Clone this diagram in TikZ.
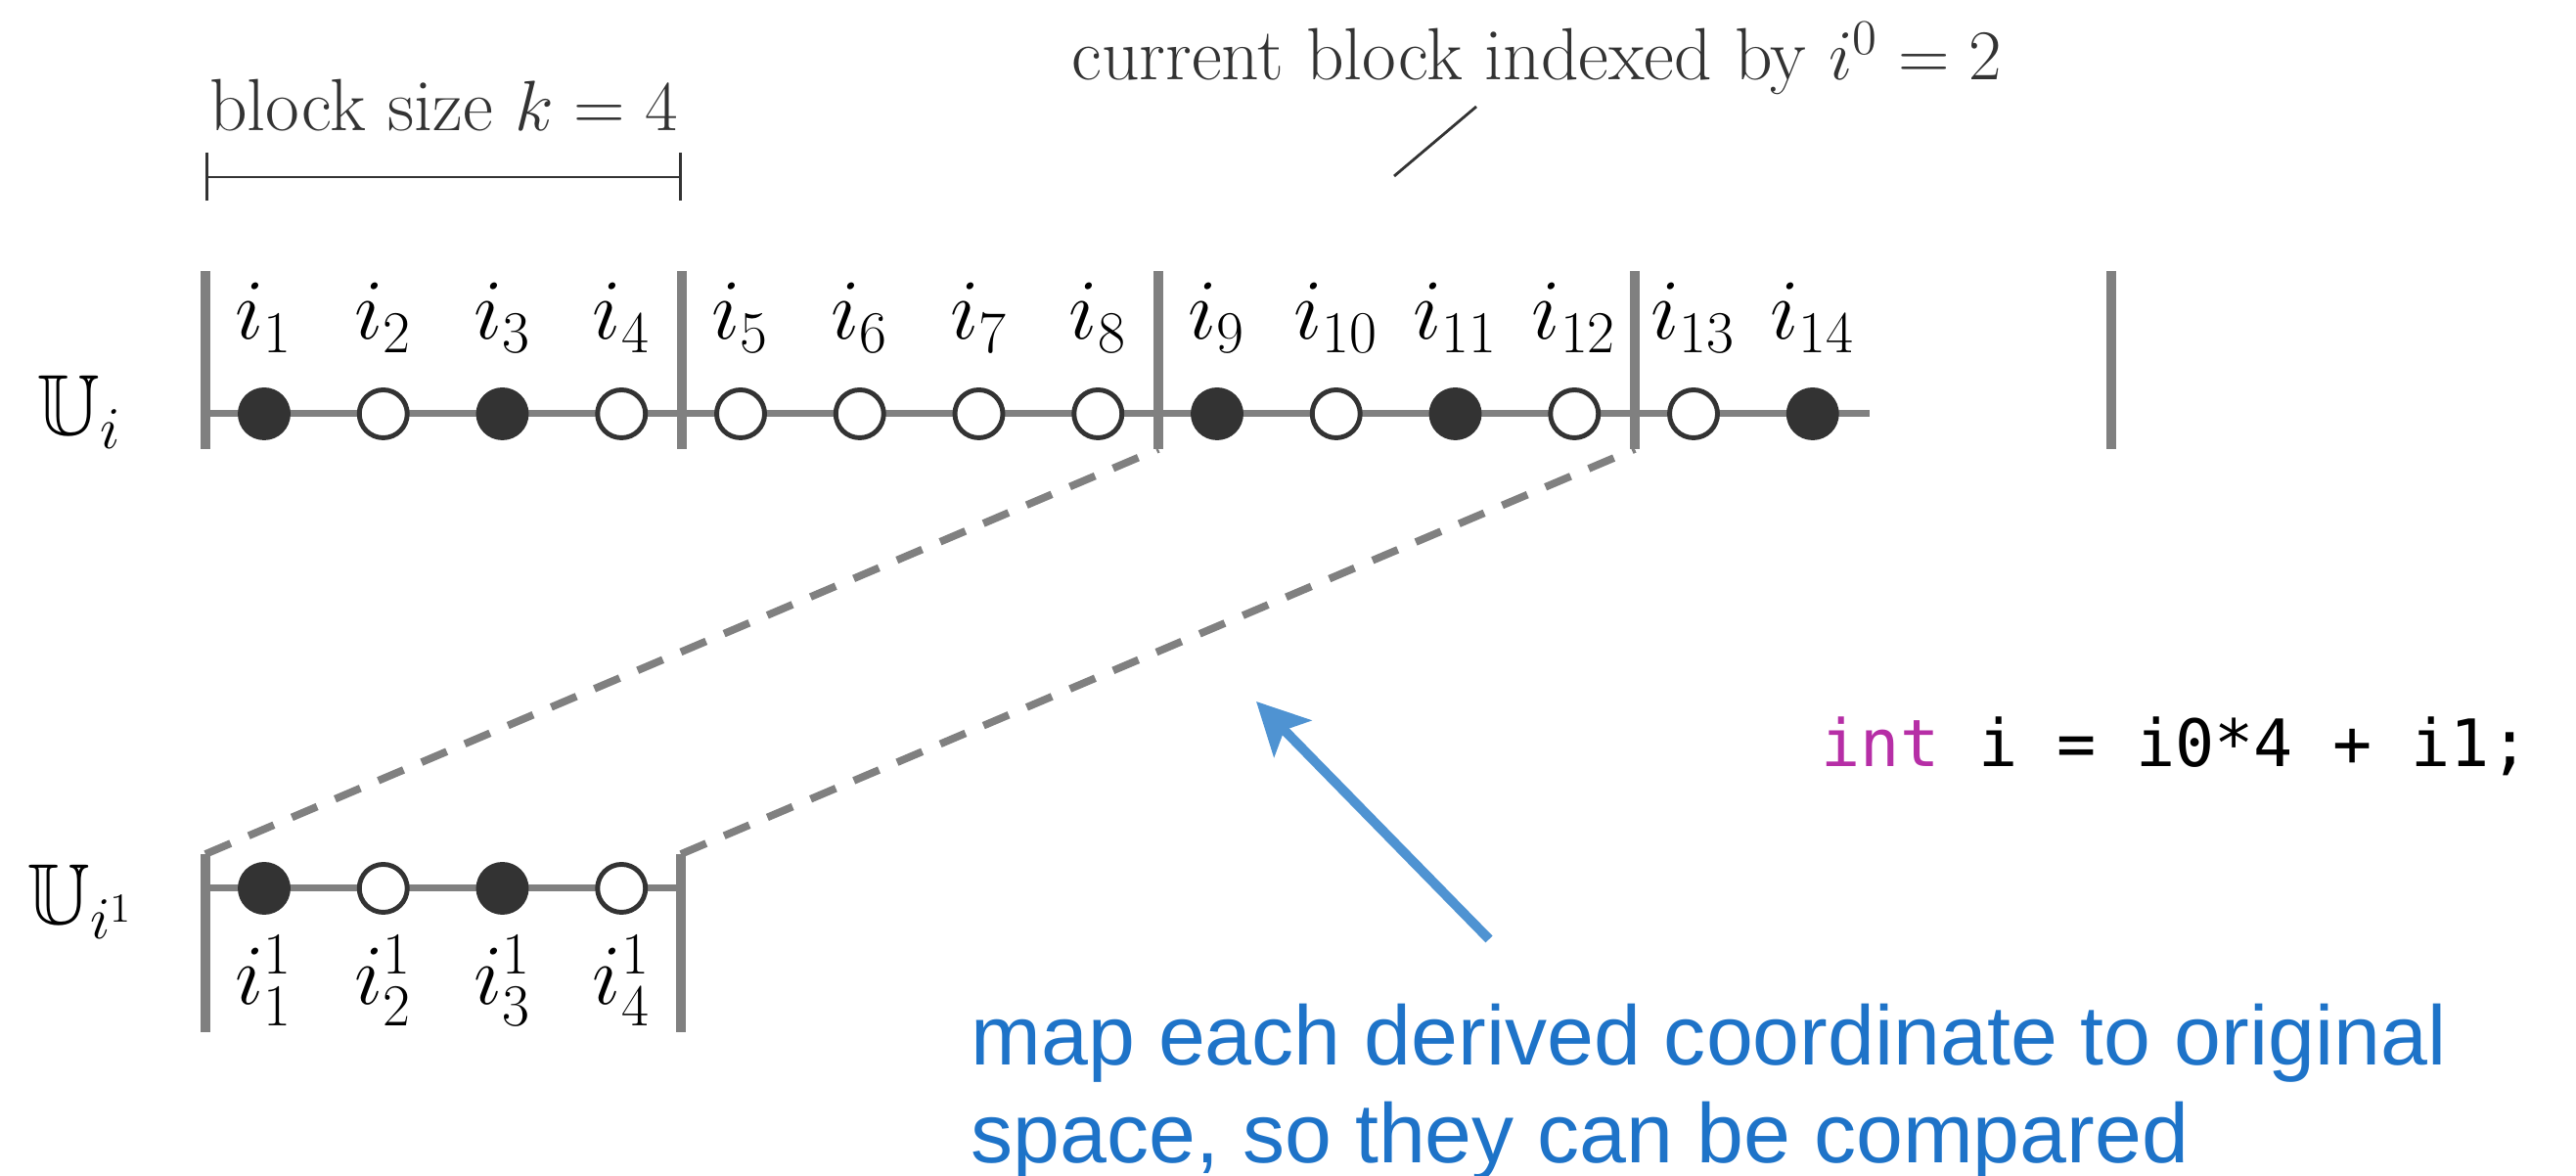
\documentclass[tikz,border=0pt]{standalone}
\usepackage{amsmath,amssymb}
\usepackage{fontspec}
\newfontfamily\codefont{DejaVu Sans Mono}
\newfontfamily\notefont{Liberation Sans}
\usetikzlibrary{arrows.meta,positioning,calc}
\definecolor{axis}{HTML}{808080}
\definecolor{ink}{HTML}{333333}
\definecolor{keyword}{HTML}{B62EA6}
\definecolor{note}{HTML}{1E73C8}
\definecolor{pointer}{HTML}{4F93D2}

\begin{document}
\begin{tikzpicture}[
  sep/.style={axis,line width=2.6pt},
  track/.style={axis,line width=2pt},
  full/.style={circle,draw=ink,fill=ink,line width=1.4pt,minimum size=0.49cm,inner sep=0pt},
  empty/.style={full,fill=white},
  idx/.style={font=\fontsize{23}{26}\selectfont,anchor=base,inner sep=0pt},
  setlabel/.style={font=\fontsize{25}{29}\selectfont,anchor=base west,inner sep=0pt},
  caption/.style={font=\fontsize{21.5}{25}\selectfont,text=ink,anchor=base,inner sep=0pt},
  lead/.style={ink,line width=0.8pt},
]
  \useasboundingbox (0,0) rectangle (26.33,12.02);

  % original index space U_i
  \draw[track] (2.10,7.79) -- (19.11,7.79);
  \foreach \b in {0,...,4}
    \draw[sep] (2.10+4.87*\b,9.25) coordinate (t\b) -- (2.10+4.87*\b,7.43) coordinate (b\b);
  \foreach \n/\s in {1/full,2/empty,3/full,4/empty,5/empty,6/empty,7/empty,8/empty,
                     9/full,10/empty,11/full,12/empty,13/empty,14/full}
    {
      \pgfmathsetmacro\x{2.70+1.2175*(\n-1)}
      \node[\s] (c\n) at (\x,7.79) {};
      \node[idx] (l\n) at (\x,8.55) {$i_{\n}$};
    }
  \node[setlabel] (ui) at (0.38,7.57) {$\mathbb{U}_i$};

  % block size bracket
  \coordinate (k0) at (2.10,10.21);
  \coordinate (k1) at (6.97,10.21);
  \draw[lead,{Bar[width=0.49cm]}-{Bar[width=0.49cm]}] (k0) -- (k1);
  \node[caption] (size) at (4.535,10.68) {block size $k = 4$};

  % current block
  \node[caption] (cur) at (15.71,11.20) {current block indexed by $i^0 = 2$};
  \coordinate (p0) at (15.09,10.93);
  \coordinate (p1) at (14.25,10.22);
  \draw[lead] (p0) -- (p1);

  % derived space U_{i^1}
  \draw[track] (2.10,2.94) -- (6.96,2.94);
  \draw[sep] (2.10,3.29) coordinate (lt) -- (2.10,1.47);
  \draw[sep] (6.96,3.29) coordinate (rt) -- (6.96,1.47);
  \foreach \n/\s in {1/full,2/empty,3/full,4/empty}
    {
      \pgfmathsetmacro\x{2.70+1.2175*(\n-1)}
      \node[\s] (d\n) at (\x,2.94) {};
      \node[idx] (m\n) at (\x,1.75) {$i^1_{\n}$};
    }
  \node[setlabel] (uj) at (0.28,2.57) {$\mathbb{U}_{i^1}$};

  \draw[axis,line width=2.2pt,dash pattern=on 0.28cm off 0.2cm] (lt) -- (b2);
  \draw[axis,line width=2.2pt,dash pattern=on 0.28cm off 0.2cm] (rt) -- (b3);

  % code and note
  \node[anchor=base west,inner sep=0pt,font=\codefont\fontsize{19}{22}\selectfont] (code) at (18.61,4.18)
    {\textcolor{keyword}{int} i = i0*4 + i1;};
  \coordinate (a0) at (15.22,2.42);
  \coordinate (a1) at (12.84,4.85);
  \draw[pointer,line width=2.8pt,-{Stealth[length=0.53cm,width=0.53cm,inset=0.12cm]}] (a0) -- (a1);
  \node[anchor=base west,inner sep=0pt,align=left,text=note,font=\notefont\fontsize{24.5}{28.7}\selectfont] (note) at (9.92,0.13)
    {map each derived coordinate to original\\space, so they can be compared};
\end{tikzpicture}
\end{document}
